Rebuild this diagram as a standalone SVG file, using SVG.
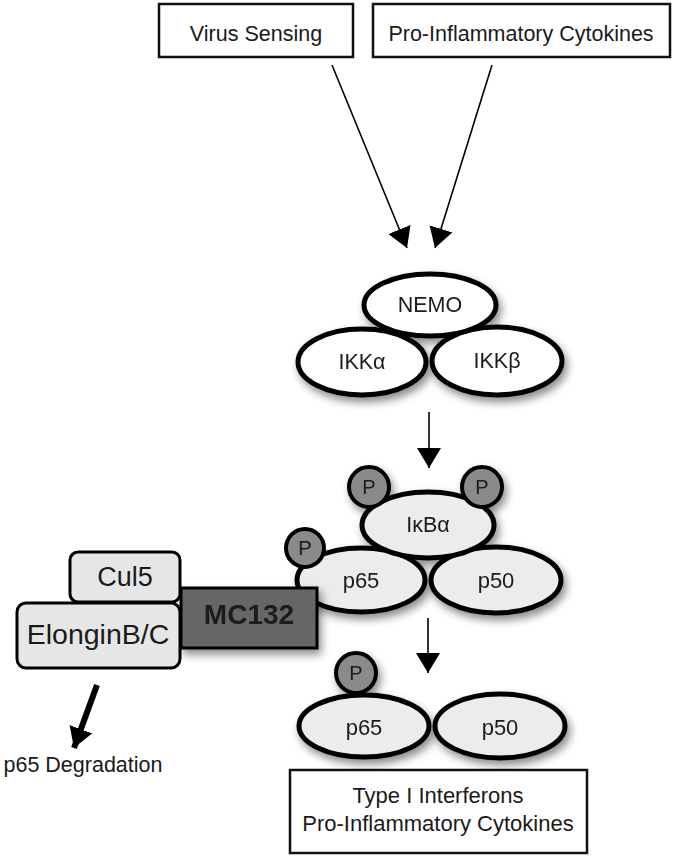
<svg xmlns="http://www.w3.org/2000/svg" width="680" height="859" viewBox="0 0 680 859">
<style>
text{font-family:"Liberation Sans",Arial,sans-serif;fill:#1a1a1a;text-anchor:middle}
.box{fill:#fff;stroke:#111;stroke-width:2.5}
.ell{stroke:#000;stroke-width:5}
.white{fill:#fff}
.grey{fill:#ececec}
.p{fill:#8a8a8a;stroke:#000;stroke-width:4}
.thin{stroke:#000;stroke-width:1.6;fill:none}
.lbl{font-size:21.5px}
.big{font-size:22px}
.pl{font-size:20px}
</style>
<defs>
<filter id="sh" x="-30%" y="-30%" width="160%" height="170%">
<feDropShadow dx="3" dy="5" stdDeviation="4" flood-color="#000" flood-opacity="0.45"/>
</filter>
<marker id="ahL" viewBox="0 0 10 10" refX="10" refY="5" markerWidth="20" markerHeight="24" markerUnits="userSpaceOnUse" orient="auto" preserveAspectRatio="none">
<path d="M0,0 L10,5 L0,10 Z" fill="#000"/>
</marker>
</defs>
<rect width="680" height="859" fill="#fff"/>

<g id="virus-sensing">
<rect class="box" x="159" y="4" width="194" height="53"/>
<text class="lbl" x="256" y="41">Virus Sensing</text>
</g>
<g id="pro-inflammatory-top">
<rect class="box" x="373" y="4" width="297" height="53"/>
<text class="lbl" x="521" y="41">Pro-Inflammatory Cytokines</text>
</g>

<g id="connectors">
<line class="thin" x1="332" y1="65" x2="407" y2="248" marker-end="url(#ahL)"/>
<line class="thin" x1="492" y1="65" x2="435" y2="248" marker-end="url(#ahL)"/>
<line class="thin" x1="429" y1="412" x2="429" y2="468" marker-end="url(#ahL)"/>
<line class="thin" x1="428" y1="618" x2="428" y2="673" marker-end="url(#ahL)"/>
<line x1="97" y1="685" x2="74" y2="748" stroke="#000" stroke-width="6" marker-end="url(#ahL)"/>
</g>

<g id="ikk-complex" filter="url(#sh)">
<g id="ikka">
<ellipse class="ell white" cx="362" cy="362" rx="64" ry="33"/>
<text class="lbl" x="362" y="369">IKKα</text>
</g>
<g id="ikkb">
<ellipse class="ell white" cx="497" cy="361" rx="65" ry="34"/>
<text class="lbl" x="497" y="368">IKKβ</text>
</g>
<g id="nemo">
<ellipse class="ell white" cx="430" cy="305" rx="66" ry="31"/>
<text class="lbl" x="430" y="312">NEMO</text>
</g>
</g>

<g id="ikba-complex" filter="url(#sh)">
<g id="p65-a">
<ellipse class="ell grey" cx="361" cy="580" rx="64" ry="32"/>
<text class="big" x="361" y="588">p65</text>
</g>
<g id="p50-a">
<ellipse class="ell grey" cx="496" cy="580" rx="65" ry="33"/>
<text class="big" x="496" y="588">p50</text>
</g>
<g id="ikba">
<ellipse class="ell grey" cx="428" cy="525" rx="66" ry="33"/>
<text class="lbl" x="428" y="532">IκBα</text>
</g>
<g id="p-ikba-left">
<circle class="p" cx="369" cy="487" r="20"/>
<text class="pl" x="369" y="494">P</text>
</g>
<g id="p-ikba-right">
<circle class="p" cx="482" cy="487" r="20"/>
<text class="pl" x="482" y="494">P</text>
</g>
</g>

<g id="mc132" filter="url(#sh)">
<rect x="181" y="588" width="136" height="60" fill="#666" stroke="#000" stroke-width="3"/>
<text x="249" y="624" font-size="28" font-weight="bold" fill="#222">MC132</text>
</g>

<g id="p-p65-a">
<circle class="p" cx="305" cy="548" r="19"/>
<text class="pl" x="305" y="555">P</text>
</g>

<g id="cul5">
<rect x="70" y="552" width="110" height="50" rx="8" fill="#e6e6e6" stroke="#000" stroke-width="3"/>
<text x="125" y="586" font-size="27">Cul5</text>
</g>
<g id="elongin">
<rect x="17" y="603" width="163" height="65" rx="9" fill="#e6e6e6" stroke="#000" stroke-width="3"/>
<text x="98" y="644" font-size="28.5">ElonginB/C</text>
</g>

<text id="p65-degradation" x="83" y="772" font-size="21.5">p65 Degradation</text>

<g id="nfkb-complex" filter="url(#sh)">
<g id="p65-b">
<ellipse class="ell grey" cx="364" cy="726" rx="65" ry="31"/>
<text class="big" x="364" y="735">p65</text>
</g>
<g id="p50-b">
<ellipse class="ell grey" cx="500" cy="726" rx="65" ry="32"/>
<text class="big" x="500" y="735">p50</text>
</g>
<g id="p-p65-b">
<circle class="p" cx="356" cy="673" r="20"/>
<text class="pl" x="356" y="680">P</text>
</g>
</g>

<g id="outputs">
<rect class="box" x="290" y="770" width="297" height="83"/>
<text class="big" x="438" y="803">Type I Interferons</text>
<text class="big" x="438" y="831">Pro-Inflammatory Cytokines</text>
</g>
</svg>
